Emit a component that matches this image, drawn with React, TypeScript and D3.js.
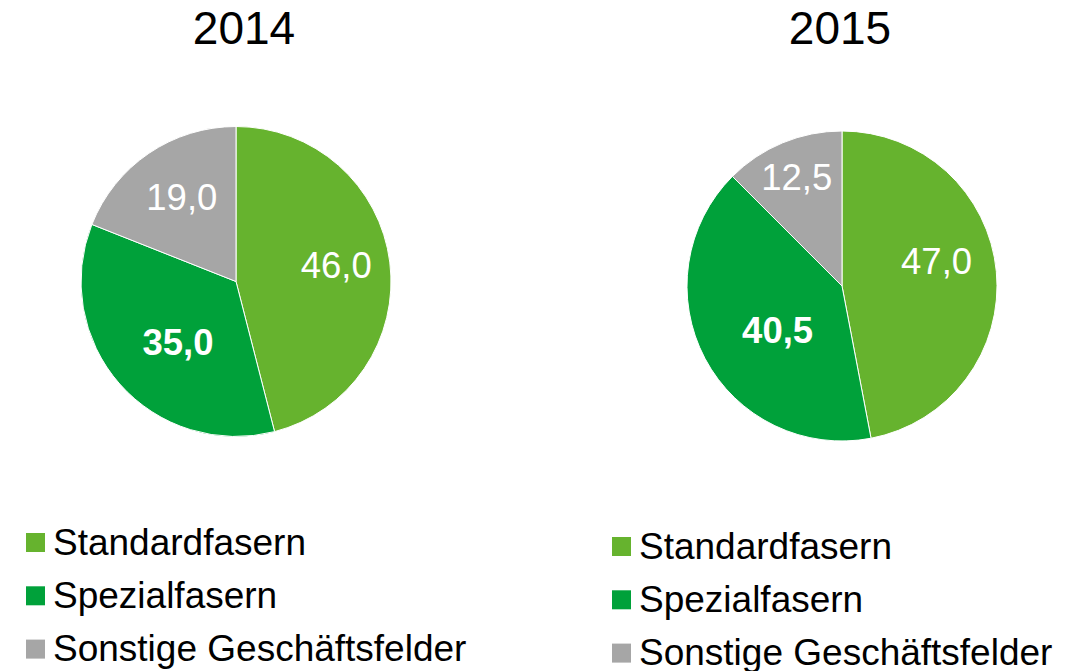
import React from "react";
import * as d3 from "d3";

const categories = ["Standardfasern", "Spezialfasern", "Sonstige Geschäftsfelder"];
const years = ["2014", "2015"];
const values2014 = [46.0, 35.0, 19.0];
const values2015 = [47.0, 40.5, 12.5];
const labelBold = [false, true, false];

const colors = ["#66b32e", "#00a13a", "#a6a6a6"];

// label nudges (px) relative to arc centroid, per pie / slice
const labelNudge2014 = [[1, -4], [17, -6], [2, -2]];
const labelNudge2015 = [[-5, -16], [24, -3], [-7, -17]];

const W = 1081;
const H = 671;
const R = 155;

const pies = [
  { year: years[0], values: values2014, cx: 236, cy: 281.5, titleX: 244, nudge: labelNudge2014, legendX: 26, legendY: 533 },
  { year: years[1], values: values2015, cx: 842, cy: 286, titleX: 840, nudge: labelNudge2015, legendX: 612, legendY: 537 },
];

const fmt = (v: number) => v.toFixed(1).replace(".", ",");

export default function App() {
  const pieGen = d3.pie<number>().sort(null).value((d) => d);
  const arcGen = d3.arc<d3.PieArcDatum<number>>().innerRadius(0).outerRadius(R);
  const labelArc = d3.arc<d3.PieArcDatum<number>>().innerRadius(100).outerRadius(100);
  const font = "'Liberation Sans', Arial, sans-serif";

  return (
    <div style={{ position: "fixed", left: 0, top: 0 }}>
      <svg width={W} height={H} style={{ display: "block", background: "#fff" }} fontFamily={font}>
        {pies.map((p) => {
          const arcs = pieGen(p.values);
          return (
            <g key={p.year}>
              <text x={p.titleX} y={44} textAnchor="middle" fontSize={46} fill="#000">
                {p.year}
              </text>
              <g transform={`translate(${p.cx},${p.cy})`}>
                {arcs.map((a, i) => (
                  <path key={i} d={arcGen(a) || ""} fill={colors[i]} stroke="#fff" strokeWidth={1} />
                ))}
                {arcs.map((a, i) => {
                  const [x, y] = labelArc.centroid(a);
                  return (
                    <text
                      key={"l" + i}
                      x={x + p.nudge[i][0]}
                      y={y + p.nudge[i][1]}
                      dy="0.36em"
                      textAnchor="middle"
                      fontSize={36.5}
                      fontWeight={labelBold[i] ? "bold" : "normal"}
                      fill="#fff"
                    >
                      {fmt(p.values[i])}
                    </text>
                  );
                })}
              </g>
              <g transform={`translate(${p.legendX},${p.legendY})`}>
                {categories.map((c, i) => (
                  <g key={c} transform={`translate(0,${i * 53.3})`}>
                    <rect x={0} y={0} width={19} height={19} fill={colors[i]} />
                    <text x={27} y={21.5} fontSize={37} fill="#000">
                      {c}
                    </text>
                  </g>
                ))}
              </g>
            </g>
          );
        })}
      </svg>
    </div>
  );
}
